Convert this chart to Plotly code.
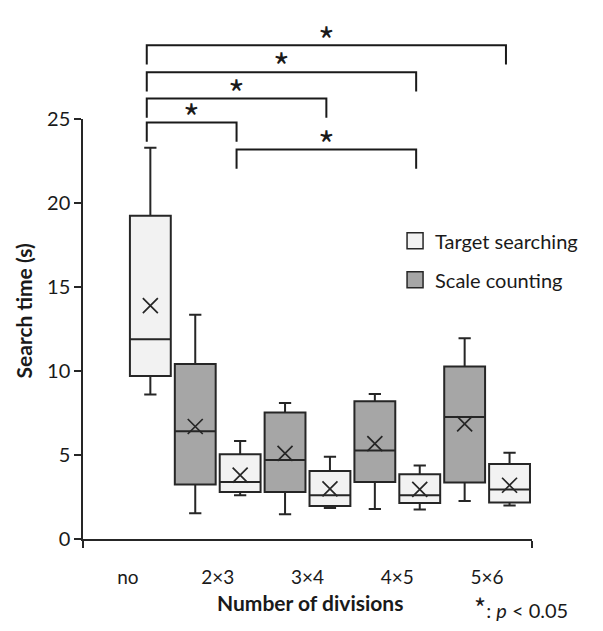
import plotly.graph_objects as go

categories = ["no", "2×3", "3×4", "4×5", "5×6"]

# Target searching (all categories)
ts_cats = ["no", "2×3", "3×4", "4×5", "5×6"]
ts_low = [8.6, 2.6, 1.85, 1.75, 2.0]
ts_q1 = [9.7, 2.8, 1.97, 2.15, 2.17]
ts_med = [11.9, 3.4, 2.6, 2.6, 2.95]
ts_q3 = [19.25, 5.05, 4.05, 3.86, 4.47]
ts_high = [23.3, 5.84, 4.9, 4.37, 5.13]
ts_mean = [13.9, 3.8, 2.99, 2.95, 3.2]

# Scale counting (no "no" category)
sc_cats = ["2×3", "3×4", "4×5", "5×6"]
sc_low = [1.54, 1.48, 1.78, 2.26]
sc_q1 = [3.24, 2.8, 3.4, 3.36]
sc_med = [6.42, 4.7, 5.27, 7.26]
sc_q3 = [10.42, 7.53, 8.2, 10.27]
sc_high = [13.35, 8.1, 8.63, 11.96]
sc_mean = [6.7, 5.1, 5.68, 6.85]

# significance brackets (category pairs, bracket height in seconds)
bracket_pairs = [("no", "5×6"), ("no", "4×5"), ("no", "3×4"), ("no", "2×3"), ("2×3", "4×5")]
bracket_levels = [29.4, 27.8, 26.23, 24.8, 23.2]
bracket_label = "*"

FONT = "Lato"
STAR_FONT = "Noto Sans CJK JP"
INK = "#1a1a1a"
EDGE = "#262626"
C_TS = "#f2f2f2"
C_SC = "#a6a6a6"

slot = 0.25
ts_x = [categories.index(c) + slot for c in ts_cats]
sc_x = [categories.index(c) - slot for c in sc_cats]

fig = go.Figure()

def add_box(xs, lo, q1, med, q3, hi, color):
    fig.add_trace(go.Box(
        x=xs, lowerfence=lo, q1=q1, median=med, q3=q3, upperfence=hi,
        width=0.455, whiskerwidth=0.3, fillcolor=color,
        line=dict(color=EDGE, width=2), showlegend=False, hoverinfo="skip",
        xaxis="x", yaxis="y"))

add_box(sc_x, sc_low, sc_q1, sc_med, sc_q3, sc_high, C_SC)
add_box(ts_x, ts_low, ts_q1, ts_med, ts_q3, ts_high, C_TS)

for xs, ms in [(sc_x, sc_mean), (ts_x, ts_mean)]:
    fig.add_trace(go.Scatter(
        x=xs, y=ms, mode="markers", showlegend=False, hoverinfo="skip",
        marker=dict(symbol="x-thin", size=15, color=EDGE, line=dict(width=1.7, color=EDGE)),
        xaxis="x", yaxis="y"))

# legend entries
for name, col, grp in [("Target searching", C_TS, "a"), ("Scale counting", C_SC, "b")]:
    fig.add_trace(go.Scatter(
        x=[None], y=[None], mode="markers", name=name, legendgroup=grp,
        marker=dict(symbol="square", size=16, color=col, line=dict(width=1.5, color=EDGE)),
        xaxis="x", yaxis="y"))

# brackets
leg = 1.15
boff = 0.21
annotations = []
for (a, b), lvl in zip(bracket_pairs, bracket_levels):
    xa = categories.index(a) + boff
    xb = categories.index(b) + boff
    fig.add_trace(go.Scatter(
        x=[xa, xa, xb, xb], y=[lvl - leg, lvl, lvl, lvl - leg], mode="lines",
        line=dict(color=INK, width=2), showlegend=False, hoverinfo="skip",
        xaxis="x", yaxis="y2"))
    annotations.append(dict(x=(xa + xb) / 2, y=lvl + 0.4, xref="x", yref="y2",
                            text=bracket_label, showarrow=False, yanchor="middle",
                            xanchor="center",
                            font=dict(family=STAR_FONT, size=36, color=INK)))

top_frac = 0.8168
annotations += [
    dict(x=-0.1336, y=0.4427, xref="paper", yref="paper", text="<b>Search time (s)</b>",
         textangle=-90, showarrow=False, xanchor="center", yanchor="middle",
         font=dict(family=FONT, size=21, color=INK)),
    dict(x=0.5055, y=-0.124, xref="paper", yref="paper", text="<b>Number of divisions</b>",
         showarrow=False, xanchor="center", yanchor="middle",
         font=dict(family=FONT, size=21, color=INK)),
    dict(x=1.085, y=-0.1718, xref="paper", yref="paper",
         text="<span style='font-family:Noto Sans CJK JP;font-size:26px'>*</span>: <i>p</i> < 0.05",
         showarrow=False, xanchor="right", yanchor="bottom",
         font=dict(family=FONT, size=20, color=INK)),
]

fig.update_layout(
    width=603, height=631,
    margin=dict(l=83, r=71, t=15, b=92),
    paper_bgcolor="white", plot_bgcolor="rgba(0,0,0,0)",
    font=dict(family=FONT, size=19, color=INK),
    xaxis=dict(range=[-0.5, 4.5], tickmode="array", tickvals=list(range(len(categories))),
               ticktext=categories, showline=True, linecolor=EDGE, linewidth=1.5,
               showgrid=False, zeroline=False, ticks="", anchor="y",
               ticklabelstandoff=20,
               minor=dict(tickmode="array", tickvals=[-0.5, 4.5], ticks="outside",
                          ticklen=7, tickwidth=1.5, tickcolor=EDGE, showgrid=False),
               tickfont=dict(family=FONT, size=19, color=INK)),
    yaxis=dict(domain=[0, top_frac], range=[0, 25], tickmode="array",
               tickvals=[0, 5, 10, 15, 20, 25], showline=True, linecolor=EDGE,
               linewidth=1.5, ticks="outside", ticklen=7, tickwidth=1.5, tickcolor=EDGE,
               showgrid=False, zeroline=False, anchor="x",
               tickfont=dict(family=FONT, size=20, color=INK)),
    yaxis2=dict(domain=[0, 1], range=[0, 25 / top_frac], visible=False, anchor="x"),
    legend=dict(x=0.695, y=0.618, xanchor="left", yanchor="top", bgcolor="rgba(0,0,0,0)",
                tracegroupgap=10, font=dict(family=FONT, size=20, color=INK)),
    annotations=annotations,
)

fig.write_html("out.html")
